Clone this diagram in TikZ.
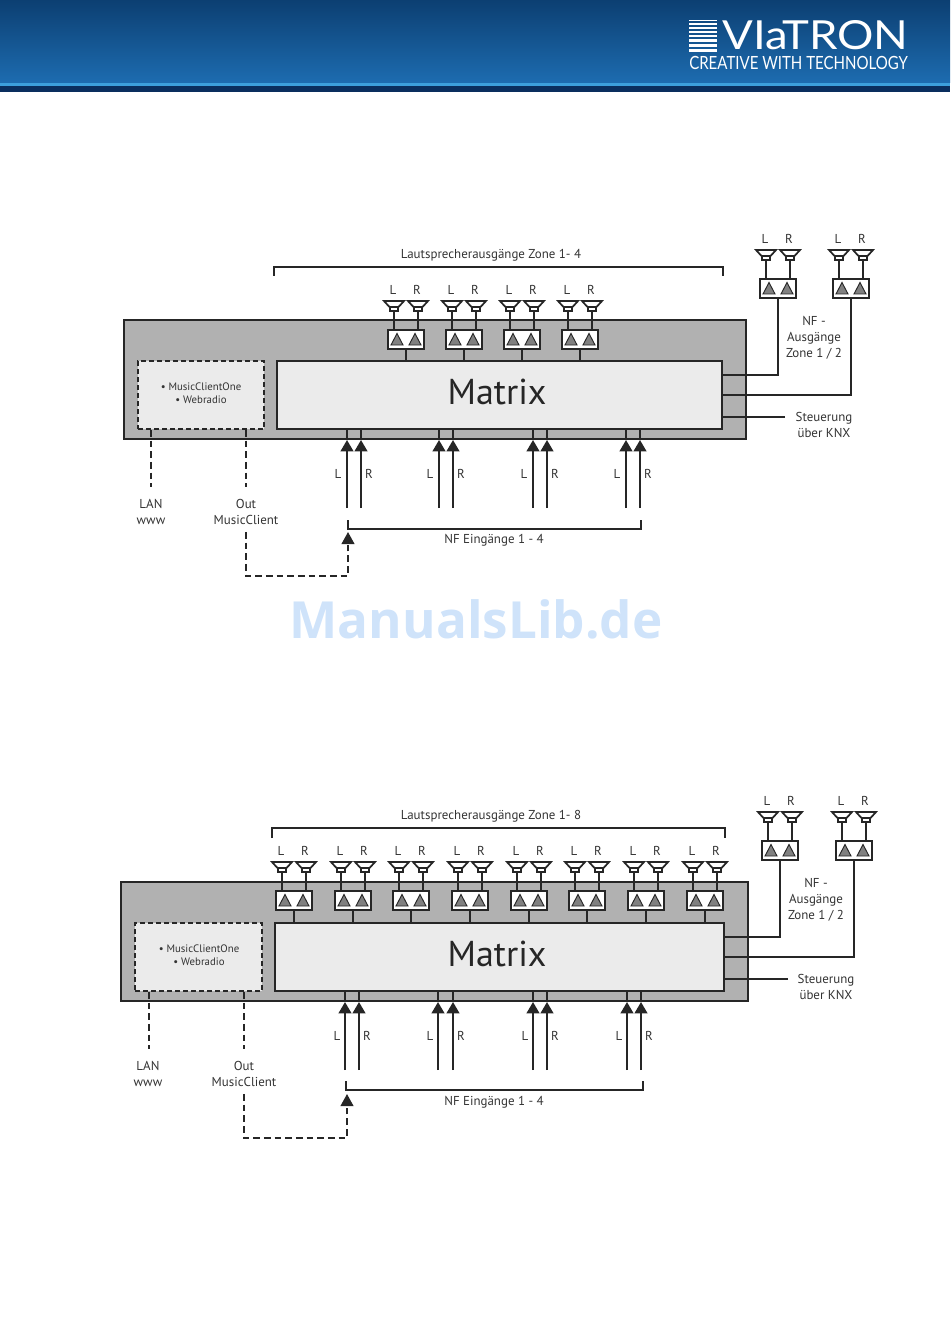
\documentclass[tikz,border=0pt]{standalone}
\usepackage{fontspec}
\usepackage{graphicx}
\setmainfont{PT Sans}
\newfontfamily\markfont{Open Sans}
\newfontfamily\logofont{Lato}
\usetikzlibrary{calc, arrows.meta}

\definecolor{headtop}{HTML}{0C3F72}
\definecolor{headbot}{HTML}{1D6CB0}
\definecolor{headline}{HTML}{3C9FDC}
\definecolor{headdark}{HTML}{0A2E5E}
\definecolor{casegray}{HTML}{B1B1B1}
\definecolor{matrixgray}{HTML}{EBEBEB}
\definecolor{txtgray}{HTML}{333333}
\definecolor{markblue}{HTML}{CFE3FA}

\tikzset{
	label/.style={font=\fontsize{9.7}{12}\selectfont, text=txtgray, align=center, inner sep=0pt},
	smalllabel/.style={label, font=\fontsize{8.1}{10}\selectfont},
	bigtext/.style={inner sep=0pt, font=\fontsize{27}{30}\selectfont, text=black!85},
	wire/.style={line width=1.5pt, draw=black!85},
	dashwire/.style={line width=1.4pt, draw=black!85, dash pattern=on 5pt off 3pt},
	casebox/.style={draw=black!85, fill=casegray, line width=1.3pt},
	matrixbox/.style={draw=black!85, fill=matrixgray, line width=1.9pt, inner sep=0pt},
	clientbox/.style={draw=black!85, fill=matrixgray, line width=1.3pt, dash pattern=on 4pt off 2pt, inner sep=0pt},
	ampbox/.style={draw=black!85, fill=white, line width=1.3pt, minimum width=27pt, minimum height=14.25pt, inner sep=0pt},
	intip/.style={-{Triangle[length=8.5pt,width=9.5pt]}},
	speaker/.pic={
		\draw[line width=1.3pt, draw=black!85, fill=white] (-10,0) -- (10,0) -- (4.5,6) -- (-4.5,6) --cycle;
		\draw[line width=1.3pt, draw=black!85, fill=white] (-4,6) rectangle (4,10);
		\coordinate (-base) at (0,10);
	}
}

% amplifier with two speakers: name, x, y
\newcommand{\ampgroup}[3]{
	\node[ampbox] (#1) at (#2,#3) {};
	\fill[black!50, draw=black!85, line width=0.7pt] ($(#1)+(-15,5.5)$) -- ($(#1)+(-3,5.5)$) -- ($(#1)+(-9,-6)$) --cycle;
	\fill[black!50, draw=black!85, line width=0.7pt] ($(#1)+(3,5.5)$) -- ($(#1)+(15,5.5)$) -- ($(#1)+(9,-6)$) --cycle;
	\pic (#1L) at ($(#1)+(-12,-38.5)$) {speaker};
	\pic (#1R) at ($(#1)+(12,-38.5)$) {speaker};
	\draw[wire] (#1L-base) -- (#1L-base |- #1.north);
	\draw[wire] (#1R-base) -- (#1R-base |- #1.north);
	\node[label] (#1LT) at ($(#1)+(-13,-49.5)$) {L};
	\node[label] (#1RT) at ($(#1)+(11,-49.5)$) {R};
}

\begin{document}
\begin{tikzpicture}[x=0.75pt, y=-0.75pt]
	\useasboundingbox (0,0) rectangle (950,1344);

	% header
	\shade[top color=headtop, bottom color=headbot] (0,0) rectangle (950,83);
	\fill[headline] (0,83) rectangle (950,86.5);
	\fill[headdark] (0,86.5) rectangle (950,92.5);
	\foreach \y/\h in {20/1.2, 23.5/1.4, 27/1.6, 31/1.8, 35/2.2, 39.5/2.6, 44.5/3, 49/3}
		\fill[white] (689,\y) rectangle (717,\y+\h);
	\node[inner sep=0pt, text=white, anchor=west] (logoname) at (722,35) {\resizebox*{139.5pt}{22pt}{\logofont VIaTRON}};
	\node[inner sep=0pt, text=white, anchor=west] (logotag) at (689,63) {\resizebox*{164pt}{10pt}{\logofont CREATIVE WITH TECHNOLOGY}};

	% first unit
	\draw[casebox] (124,320) rectangle (746,439);
	\node[matrixbox, minimum width=333.75pt, minimum height=51pt] (matrix1) at (499.5,395) {};
	\node[bigtext] (matrixtext1) at (497,392) {Matrix};
	\node[clientbox, minimum width=94.5pt, minimum height=51pt] (client1) at (201,395) {};
	\node[smalllabel] (clienttext1) at (201,393) {{\textbullet} MusicClientOne\\{\textbullet} Webradio};

	\foreach \i/\x in {1/406, 2/464, 3/522, 4/580} {
		\ampgroup{ampA\i}{\x}{339.5}
		\draw[wire] (ampA\i.south) -- (ampA\i.south |- matrix1.north);
	}
	\ampgroup{nfA1}{778}{288.5}
	\ampgroup{nfA2}{851}{288.5}

	\coordinate (knxA) at (785,417);
	\draw[wire] (nfA1.south) |- (matrix1.east |- 0,375);
	\draw[wire] (nfA2.south) |- (matrix1.east |- 0,395);
	\draw[wire] (knxA) -- (matrix1.east |- knxA);
	\node[label] (nfoutA) at (814,338) {NF -\\Ausgänge\\Zone 1 / 2};
	\node[label] (knxtextA) at (824,425) {Steuerung\\über KNX};

	\coordinate (brA1) at (274,276);
	\coordinate (brA2) at (723,276);
	\draw[wire] (brA1) -- (274,267) -- (723,267) -- (brA2);
	\node[label] (zonesA) at (491,255) {Lautsprecherausgänge Zone 1- 4};

	\foreach \i/\xl/\xr in {1/347/361, 2/439/453, 3/533/547, 4/626/640} {
		\coordinate (inA\i L) at (\xl,508);
		\coordinate (inA\i R) at (\xr,508);
		\coordinate (tipA\i L) at (\xl,440);
		\coordinate (tipA\i R) at (\xr,440);
		\draw[wire] (tipA\i L) -- (tipA\i L |- matrix1.south);
		\draw[wire] (tipA\i R) -- (tipA\i R |- matrix1.south);
		\draw[wire, intip] (inA\i L) -- (tipA\i L);
		\draw[wire, intip] (inA\i R) -- (tipA\i R);
		\node[label] (inA\i Lt) at (\xl-9,474) {L};
		\node[label] (inA\i Rt) at (\xr+8,474) {R};
	}
	\coordinate (brinA1) at (348,520);
	\coordinate (brinA2) at (641,520);
	\draw[wire] (brinA1) -- (348,529) -- (641,529) -- (brinA2);
	\node[label] (intextA) at (494,540) {NF Eingänge 1 - 4};

	\coordinate (lanA) at (151,487);
	\coordinate (outA) at (246,487);
	\draw[dashwire] (lanA |- client1.south) -- (lanA);
	\draw[dashwire] (outA |- client1.south) -- (outA);
	\node[label] (lantextA) at (151,512) {LAN\\www};
	\node[label] (outtextA) at (246,512) {Out\\MusicClient};
	\coordinate (backA) at (348,532);
	\draw[dashwire, -{Triangle[length=9pt,width=9.5pt]}] (outtextA.south -| outA) ++(0,7) -- (246,576) -- (348,576) -- (backA);

	% watermark
	\node[inner sep=0pt, text=markblue, font=\fontsize{38.4}{44}\selectfont\markfont\bfseries] (watermark) at (476,619) {ManualsLib.de};

	% second unit
	\draw[casebox] (121,882) rectangle (748,1001);
	\node[matrixbox, minimum width=336.75pt, minimum height=51pt] (matrix2) at (499.5,957) {};
	\node[bigtext] (matrixtext2) at (497,954) {Matrix};
	\node[clientbox, minimum width=95.25pt, minimum height=51pt] (client2) at (198.5,957) {};
	\node[smalllabel] (clienttext2) at (199,955) {{\textbullet} MusicClientOne\\{\textbullet} Webradio};

	\foreach \i/\x in {1/294, 2/353, 3/411, 4/470, 5/529, 6/587, 7/646, 8/705} {
		\ampgroup{ampB\i}{\x}{900.5}
		\draw[wire] (ampB\i.south) -- (ampB\i.south |- matrix2.north);
	}
	\ampgroup{nfB1}{780}{850.5}
	\ampgroup{nfB2}{854}{850.5}

	\coordinate (knxB) at (788,979);
	\draw[wire] (nfB1.south) |- (matrix2.east |- 0,937);
	\draw[wire] (nfB2.south) |- (matrix2.east |- 0,957);
	\draw[wire] (knxB) -- (matrix2.east |- knxB);
	\node[label] (nfoutB) at (816,900) {NF -\\Ausgänge\\Zone 1 / 2};
	\node[label] (knxtextB) at (826,987) {Steuerung\\über KNX};

	\coordinate (brB1) at (272,838);
	\coordinate (brB2) at (725,838);
	\draw[wire] (brB1) -- (272,828) -- (725,828) -- (brB2);
	\node[label] (zonesB) at (491,816) {Lautsprecherausgänge Zone 1- 8};

	\foreach \i/\xl/\xr in {1/345/359, 2/438/453, 3/533/547, 4/627/641} {
		\coordinate (inB\i L) at (\xl,1070);
		\coordinate (inB\i R) at (\xr,1070);
		\coordinate (tipB\i L) at (\xl,1002);
		\coordinate (tipB\i R) at (\xr,1002);
		\draw[wire] (tipB\i L) -- (tipB\i L |- matrix2.south);
		\draw[wire] (tipB\i R) -- (tipB\i R |- matrix2.south);
		\draw[wire, intip] (inB\i L) -- (tipB\i L);
		\draw[wire, intip] (inB\i R) -- (tipB\i R);
		\node[label] (inB\i Lt) at (\xl-8,1036) {L};
		\node[label] (inB\i Rt) at (\xr+8,1036) {R};
	}
	\coordinate (brinB1) at (346,1081);
	\coordinate (brinB2) at (643,1081);
	\draw[wire] (brinB1) -- (346,1090) -- (643,1090) -- (brinB2);
	\node[label] (intextB) at (494,1102) {NF Eingänge 1 - 4};

	\coordinate (lanB) at (149,1049);
	\coordinate (outB) at (244,1049);
	\draw[dashwire] (lanB |- client2.south) -- (lanB);
	\draw[dashwire] (outB |- client2.south) -- (outB);
	\node[label] (lantextB) at (148,1074) {LAN\\www};
	\node[label] (outtextB) at (244,1074) {Out\\MusicClient};
	\coordinate (backB) at (347,1094);
	\draw[dashwire, -{Triangle[length=9pt,width=9.5pt]}] (outtextB.south -| outB) ++(0,7) -- (244,1138) -- (347,1138) -- (backB);
\end{tikzpicture}
\end{document}
